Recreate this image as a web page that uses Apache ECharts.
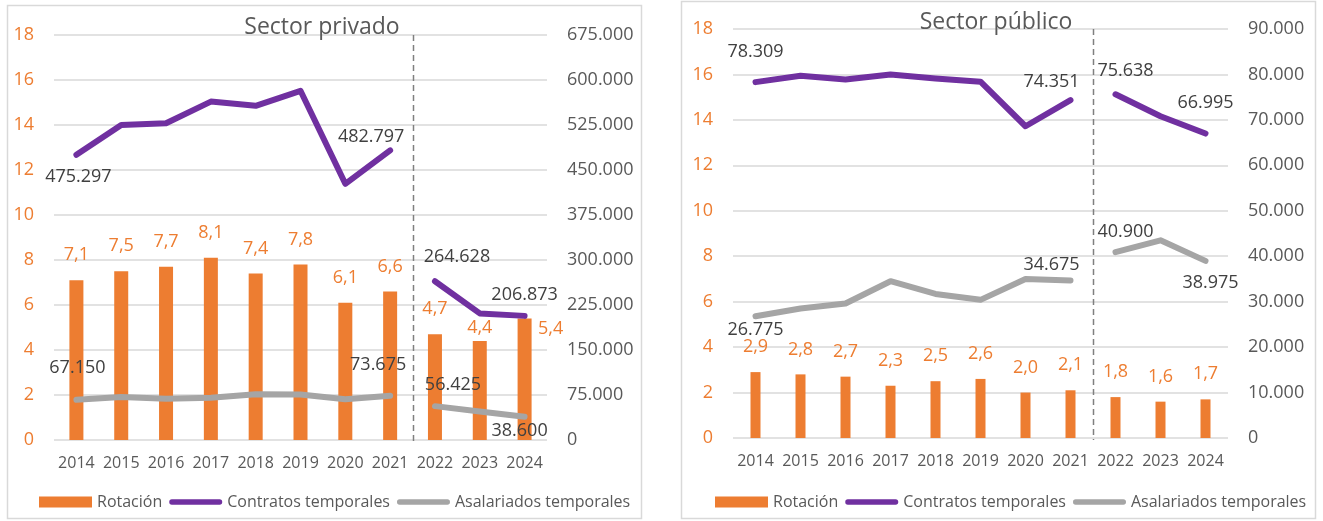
<!DOCTYPE html>
<html>
<head>
<meta charset="utf-8">
<script src="https://cdn.jsdelivr.net/npm/echarts@6/dist/echarts.min.js"></script>
<style>
  html, body { margin: 0; padding: 0; background: #ffffff; }
  #chart { width: 1323px; height: 521px; }
</style>
</head>
<body>
<div id="chart"></div>
<script>
// Categories
const years = ['2014', '2015', '2016', '2017', '2018', '2019', '2020', '2021', '2022', '2023', '2024'];
// Series break: 2014-2021 and 2022-2024 are drawn as separate line segments
const breakIndex = 8;

// Sector privado
const privRotacion = [7.1, 7.5, 7.7, 8.1, 7.4, 7.8, 6.1, 6.6, 4.7, 4.4, 5.4];
const privContratos = [475297, 525000, 528000, 564000, 557000, 582000, 427000, 482797, 264628, 211000, 206873];
const privAsalariados = [67150, 71700, 68900, 70600, 76100, 76000, 67800, 73675, 56425, 47500, 38600];

// Sector público
const pubRotacion = [2.9, 2.8, 2.7, 2.3, 2.5, 2.6, 2.0, 2.1, 1.8, 1.6, 1.7];
const pubContratos = [78309, 79700, 78900, 80000, 79100, 78400, 68600, 74351, 75638, 70800, 66995];
const pubAsalariados = [26775, 28500, 29600, 34500, 31700, 30400, 35000, 34675, 40900, 43500, 38975];

// Axis ranges
const rotacionAxis = { min: 0, max: 18, interval: 2 };
const privRightAxis = { min: 0, max: 675000, interval: 75000 };
const pubRightAxis = { min: 0, max: 90000, interval: 10000 };

// Which points carry a value label
const labeledPoints = [0, 7, 8, 10];

const ORANGE = '#ED7D31';
const PURPLE = '#7030A0';
const GRAY = '#A5A5A5';
const AXIS_TEXT = '#595959';
const LABEL_TEXT = '#404040';
const GRID = '#D9D9D9';
const FONT = 'Open Sans';

const thousands = v => String(Math.round(v)).replace(/\B(?=(\d{3})+(?!\d))/g, '.');
const decimalComma = v => Number(v).toFixed(1).replace('.', ',');

// Label placement (offset of label centre from the point) per series
const labelOffsets = {
  privContratos: { 0: [2, 22], 7: [-19, -13], 8: [22, -24], 10: [0, -21] },
  privAsalariados: { 0: [1, -32], 7: [-12, -31], 8: [18, -21], 10: [-5, 14] },
  pubContratos: { 0: [0, -30], 7: [-19, -18], 8: [10, -23], 10: [0, -31] },
  pubAsalariados: { 0: [0, 14], 7: [-19, -16], 8: [10, -20], 10: [5, 22] }
};
const barLabelOverrides = {
  priv: { 9: { distance: 4 }, 10: { distance: 0, offset: [26, 19] } },
  pub: {}
};

function lineSegment(values, key, from, to) {
  return values.map((v, i) => {
    if (i < from || i >= to) return null;
    if (labeledPoints.indexOf(i) >= 0) {
      return {
        value: v,
        label: { show: true, position: 'inside', offset: labelOffsets[key][i] }
      };
    }
    return v;
  });
}

function lineSeries(name, values, key, color, xIdx, yIdx) {
  const base = {
    name: name,
    type: 'line',
    xAxisIndex: xIdx,
    yAxisIndex: yIdx,
    symbol: 'circle',
    symbolSize: 1,
    showSymbol: true,
    silent: true,
    connectNulls: false,
    itemStyle: { color: color },
    lineStyle: { color: color, width: 6, cap: 'round', join: 'round' },
    label: {
      show: false,
      color: LABEL_TEXT,
      fontSize: 18,
      fontFamily: FONT,
      formatter: p => thousands(p.value)
    },
    emphasis: { disabled: true },
    z: 3
  };
  return [
    Object.assign({}, base, { data: lineSegment(values, key, 0, breakIndex) }),
    Object.assign({}, base, { data: lineSegment(values, key, breakIndex, values.length) })
  ];
}

function barSeries(values, key, xIdx, yIdx, width) {
  const overrides = barLabelOverrides[key];
  return {
    name: 'Rotación',
    type: 'bar',
    xAxisIndex: xIdx,
    yAxisIndex: yIdx,
    barWidth: width,
    silent: true,
    itemStyle: { color: ORANGE },
    label: {
      show: true,
      position: 'top',
      distance: 16,
      color: ORANGE,
      fontSize: 18,
      fontFamily: FONT,
      formatter: p => decimalComma(p.value)
    },
    emphasis: { disabled: true },
    data: values.map((v, i) => overrides[i] ? { value: v, label: overrides[i] } : v),
    z: 2
  };
}

const lineIcon = 'path://M5,0 H95 A5,5 0 0 1 95,10 H5 A5,5 0 0 1 5,0 Z';

function legendFor(left) {
  return {
    left: left,
    top: 489,
    orient: 'horizontal',
    itemWidth: 53,
    itemHeight: 11,
    itemGap: 7,
    selectedMode: false,
    textStyle: { color: AXIS_TEXT, fontSize: 16, fontFamily: FONT },
    data: [
      { name: 'Rotación', icon: 'rect' },
      { name: 'Contratos temporales', icon: lineIcon },
      { name: 'Asalariados temporales', icon: lineIcon }
    ]
  };
}

function categoryAxis(gridIndex) {
  return {
    type: 'category',
    gridIndex: gridIndex,
    data: years,
    boundaryGap: true,
    axisLine: { show: false },
    axisTick: { show: false },
    axisLabel: { color: AXIS_TEXT, fontSize: 16, fontFamily: FONT, margin: 15, interval: 0, hideOverlap: false }
  };
}

function leftAxis(gridIndex) {
  return {
    type: 'value',
    gridIndex: gridIndex,
    position: 'left',
    min: rotacionAxis.min,
    max: rotacionAxis.max,
    interval: rotacionAxis.interval,
    axisLine: { show: false },
    axisTick: { show: false },
    splitLine: { show: true, lineStyle: { color: GRID, width: 1.5 } },
    axisLabel: { color: ORANGE, fontSize: 18, fontFamily: FONT, margin: 20 }
  };
}

function rightAxis(gridIndex, range) {
  return {
    type: 'value',
    gridIndex: gridIndex,
    position: 'right',
    min: range.min,
    max: range.max,
    interval: range.interval,
    axisLine: { show: false },
    axisTick: { show: false },
    splitLine: { show: false },
    axisLabel: { color: AXIS_TEXT, fontSize: 18, fontFamily: FONT, margin: 20, formatter: thousands }
  };
}

const chart = echarts.init(document.getElementById('chart'), null, { renderer: 'canvas' });

chart.setOption({
  animation: false,
  backgroundColor: '#ffffff',
  textStyle: { fontFamily: FONT },
  grid: [
    { left: 54, top: 35, width: 493, height: 405 },
    { left: 733, top: 29, width: 495, height: 409 }
  ],
  legend: [legendFor(34), legendFor(710)],
  xAxis: [categoryAxis(0), categoryAxis(1)],
  yAxis: [leftAxis(0), rightAxis(0, privRightAxis), leftAxis(1), rightAxis(1, pubRightAxis)],
  series: [
    barSeries(privRotacion, 'priv', 0, 0, 14),
    ...lineSeries('Contratos temporales', privContratos, 'privContratos', PURPLE, 0, 1),
    ...lineSeries('Asalariados temporales', privAsalariados, 'privAsalariados', GRAY, 0, 1),
    barSeries(pubRotacion, 'pub', 1, 2, 10),
    ...lineSeries('Contratos temporales', pubContratos, 'pubContratos', PURPLE, 1, 3),
    ...lineSeries('Asalariados temporales', pubAsalariados, 'pubAsalariados', GRAY, 1, 3)
  ]
});

// Panel frames, titles and the dashed separator between 2021 and 2022
function separator(xIdx, yIdx) {
  const a = chart.convertToPixel({ xAxisIndex: xIdx }, years[breakIndex - 1]);
  const b = chart.convertToPixel({ xAxisIndex: xIdx }, years[breakIndex]);
  const yTop = chart.convertToPixel({ yAxisIndex: yIdx }, rotacionAxis.max);
  const yBottom = chart.convertToPixel({ yAxisIndex: yIdx }, rotacionAxis.min);
  const x = Math.round((a + b) / 2) + 0.5;
  return {
    type: 'line',
    silent: true,
    z: 5,
    shape: { x1: x, y1: yTop, x2: x, y2: yBottom + 2 },
    style: { stroke: '#7F7F7F', lineWidth: 1.5, lineDash: [6, 4] }
  };
}

chart.setOption({
  graphic: [
    {
      type: 'rect', silent: true, z: 0,
      shape: { x: 7.5, y: 5.5, width: 634, height: 513 },
      style: { fill: 'none', stroke: GRID, lineWidth: 1.5 }
    },
    {
      type: 'rect', silent: true, z: 0,
      shape: { x: 681.5, y: 1.5, width: 634, height: 517 },
      style: { fill: 'none', stroke: GRID, lineWidth: 1.5 }
    },
    {
      type: 'text', silent: true, z: 6,
      x: 322, y: 27,
      style: { text: 'Sector privado', fill: AXIS_TEXT, fontSize: 23, fontFamily: FONT, textAlign: 'center', textVerticalAlign: 'middle' }
    },
    {
      type: 'text', silent: true, z: 6,
      x: 996, y: 22,
      style: { text: 'Sector público', fill: AXIS_TEXT, fontSize: 23, fontFamily: FONT, textAlign: 'center', textVerticalAlign: 'middle' }
    },
    separator(0, 0),
    separator(1, 2)
  ]
});
</script>
</body>
</html>
